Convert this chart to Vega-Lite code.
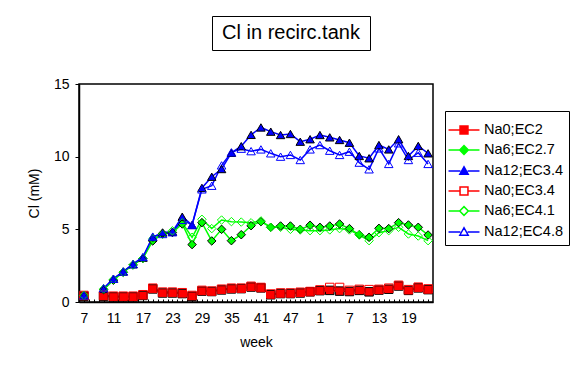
{
  "$schema": "https://vega.github.io/schema/vega-lite/v6.json",
  "background": "white",
  "padding": {"left": 26, "top": 15, "right": 0, "bottom": 0},
  "spacing": 25,
  "config": {
    "font": "Liberation Sans",
    "view": {"stroke": "black", "strokeWidth": 1.5},
    "axis": {
      "domainColor": "black", "domainWidth": 1.5, "tickColor": "black", "tickWidth": 1,
      "labelColor": "black", "titleColor": "black", "labelFont": "Liberation Sans", "titleFont": "Liberation Sans",
      "labelFontSize": 14, "titleFontSize": 14, "titleFontWeight": "normal", "grid": false
    }
  },
  "datasets": {
    "names": [
      {"key": "s1", "series": "Na0;EC2"},
      {"key": "s2", "series": "Na6;EC2.7"},
      {"key": "s3", "series": "Na12;EC3.4"},
      {"key": "s4", "series": "Na0;EC3.4"},
      {"key": "s5", "series": "Na6;EC4.1"},
      {"key": "s6", "series": "Na12;EC4.8"}
    ],
    "cl": [
      {"i": 0, "s1": 0.4, "s2": 0.42, "s3": 0.45, "s4": 0.45, "s5": 0.45, "s6": 0.45},
      {"i": 2, "s1": null, "s2": null, "s3": null, "s4": null, "s5": null, "s6": null},
      {"i": 4, "s1": 0.4, "s2": 0.85, "s3": 0.9, "s4": 0.45, "s5": 0.9, "s6": 0.95},
      {"i": 6, "s1": 0.35, "s2": 1.5, "s3": 1.6, "s4": 0.4, "s5": 1.55, "s6": 1.6},
      {"i": 8, "s1": 0.35, "s2": 2.05, "s3": 2.1, "s4": 0.4, "s5": 2.05, "s6": 2.1},
      {"i": 10, "s1": 0.35, "s2": 2.55, "s3": 2.6, "s4": 0.4, "s5": 2.55, "s6": 2.6},
      {"i": 12, "s1": 0.45, "s2": 3.0, "s3": 3.05, "s4": 0.5, "s5": 3.0, "s6": 3.1},
      {"i": 14, "s1": 0.9, "s2": 4.2, "s3": 4.45, "s4": 0.95, "s5": 4.35, "s6": 4.5},
      {"i": 16, "s1": 0.62, "s2": 4.72, "s3": 4.78, "s4": 0.68, "s5": 4.65, "s6": 4.68},
      {"i": 18, "s1": 0.62, "s2": 4.78, "s3": 4.84, "s4": 0.68, "s5": 4.9, "s6": 4.8},
      {"i": 20, "s1": 0.58, "s2": 5.37, "s3": 5.87, "s4": 0.64, "s5": 5.45, "s6": 5.65},
      {"i": 22, "s1": 0.4, "s2": 3.95, "s3": 5.3, "s4": 0.45, "s5": 4.45, "s6": 5.3},
      {"i": 24, "s1": 0.75, "s2": 5.46, "s3": 7.85, "s4": 0.8, "s5": 5.69, "s6": 7.75},
      {"i": 26, "s1": 0.72, "s2": 4.2, "s3": 8.62, "s4": 0.75, "s5": 5.05, "s6": 8.0},
      {"i": 28, "s1": 0.83, "s2": 5.0, "s3": 9.15, "s4": 0.88, "s5": 5.64, "s6": 9.4},
      {"i": 30, "s1": 0.9, "s2": 4.22, "s3": 10.27, "s4": 0.95, "s5": 5.53, "s6": 10.3},
      {"i": 32, "s1": 0.92, "s2": 4.63, "s3": 10.72, "s4": 0.95, "s5": 5.5, "s6": 10.55},
      {"i": 34, "s1": 1.03, "s2": 5.25, "s3": 11.5, "s4": 1.08, "s5": 5.45, "s6": 10.38},
      {"i": 36, "s1": 0.97, "s2": 5.53, "s3": 12.01, "s4": 1.0, "s5": 5.58, "s6": 10.5},
      {"i": 38, "s1": 0.5, "s2": 5.14, "s3": 11.72, "s4": 0.55, "s5": 5.14, "s6": 10.23},
      {"i": 40, "s1": 0.58, "s2": 5.23, "s3": 11.49, "s4": 0.62, "s5": 5.14, "s6": 10.0},
      {"i": 42, "s1": 0.58, "s2": 5.23, "s3": 11.56, "s4": 0.62, "s5": 5.0, "s6": 10.12},
      {"i": 44, "s1": 0.62, "s2": 5.0, "s3": 11.03, "s4": 0.67, "s5": 4.96, "s6": 9.77},
      {"i": 46, "s1": 0.7, "s2": 5.28, "s3": 11.2, "s4": 0.72, "s5": 4.91, "s6": 10.5},
      {"i": 48, "s1": 0.78, "s2": 5.14, "s3": 11.49, "s4": 0.83, "s5": 4.91, "s6": 10.8},
      {"i": 50, "s1": 0.8, "s2": 5.23, "s3": 11.33, "s4": 1.0, "s5": 4.96, "s6": 10.41},
      {"i": 52, "s1": 0.75, "s2": 5.37, "s3": 11.15, "s4": 1.0, "s5": 5.05, "s6": 10.12},
      {"i": 54, "s1": 0.72, "s2": 5.05, "s3": 10.96, "s4": 0.8, "s5": 4.96, "s6": 10.34},
      {"i": 56, "s1": 0.8, "s2": 4.63, "s3": 10.05, "s4": 0.87, "s5": 4.61, "s6": 9.59},
      {"i": 58, "s1": 0.7, "s2": 4.45, "s3": 9.89, "s4": 0.85, "s5": 4.22, "s6": 9.13},
      {"i": 60, "s1": 0.82, "s2": 5.07, "s3": 10.8, "s4": 0.87, "s5": 4.77, "s6": 10.57},
      {"i": 62, "s1": 0.88, "s2": 5.05, "s3": 10.5, "s4": 0.95, "s5": 4.91, "s6": 9.5},
      {"i": 64, "s1": 1.1, "s2": 5.46, "s3": 11.2, "s4": 1.15, "s5": 5.14, "s6": 10.92},
      {"i": 66, "s1": 0.8, "s2": 5.3, "s3": 10.05, "s4": 0.85, "s5": 4.68, "s6": 9.77},
      {"i": 68, "s1": 0.97, "s2": 5.14, "s3": 10.74, "s4": 1.02, "s5": 4.54, "s6": 10.27},
      {"i": 70, "s1": 0.85, "s2": 4.61, "s3": 10.23, "s4": 0.9, "s5": 4.22, "s6": 9.5}
    ]
  },
  "vconcat": [
    {
      "spacing": 0,
      "hconcat": [
        {
          "width": 132,
          "height": 34,
          "view": {"stroke": null},
          "data": {"values": []},
          "mark": {"type": "point", "opacity": 0},
          "encoding": {}
        },
        {
          "width": 158,
          "height": 34,
          "view": {"stroke": "black", "strokeWidth": 1},
          "data": {"values": [{"title": "Cl in recirc.tank"}]},
          "mark": {"type": "text", "fontSize": 20, "font": "Liberation Sans", "color": "black"},
          "encoding": {"text": {"field": "title", "type": "nominal"}}
        }
      ]
    },
    {
      "width": 354,
      "height": 218,
      "data": {"name": "cl"},
      "transform": [
        {"fold": ["s1", "s2", "s3", "s4", "s5", "s6"], "as": ["key", "v"]},
        {"lookup": "key", "from": {"data": {"name": "names"}, "key": "key", "fields": ["series"]}}
      ],
      "encoding": {
        "x": {
          "field": "i", "type": "quantitative",
          "scale": {"domain": [-1, 71], "nice": false, "zero": false},
          "axis": {
            "title": "week",
            "values": [0,1,2,3,4,5,6,7,8,9,10,11,12,13,14,15,16,17,18,19,20,21,22,23,24,25,26,27,28,29,30,31,32,33,34,35,36,37,38,39,40,41,42,43,44,45,46,47,48,49,50,51,52,53,54,55,56,57,58,59,60,61,62,63,64,65,66,67,68,69,70],
            "labelExpr": "datum.value % 6 == 0 ? ['7','11','17','23','29','35','41','47','1','7','13','19'][datum.value / 6] : ''",
            "labelOverlap": false, "labelFlush": false, "labelBound": false,
            "tickSize": -3, "labelPadding": 12, "titlePadding": 10
          }
        },
        "y": {
          "field": "v", "type": "quantitative",
          "scale": {"domain": [0, 15], "nice": false},
          "axis": {"title": "Cl (mM)", "values": [0, 5, 10, 15], "tickSize": 4, "labelPadding": 6, "titlePadding": 12}
        }
      },
      "layer": [
        {
          "mark": {"type": "line", "strokeWidth": 1.5, "invalid": "break-paths-show-domains"},
          "encoding": {
            "color": {
              "field": "series", "type": "nominal",
              "scale": {
                "domain": ["Na0;EC2", "Na6;EC2.7", "Na12;EC3.4", "Na0;EC3.4", "Na6;EC4.1", "Na12;EC4.8"],
                "range": ["#FF0000", "#00FF00", "#0000FF", "#FF0000", "#00FF00", "#0000FF"]
              },
              "legend": {
                "title": null, "orient": "none", "legendX": 366, "legendY": 95,
                "symbolSize": 576, "symbolStrokeWidth": 1.5, "labelOffset": 7, "rowPadding": 0,
                "padding": 6, "strokeColor": "black", "fillColor": "white",
                "labelFontSize": 14.5, "labelFont": "Liberation Sans", "labelColor": "black",
                "encode": {
                  "symbols": {
                    "update": {
                      "shape": {"signal": "datum.index % 3 == 0 ? 'M-1.29,0H-0.33M0.33,0H1.29M-0.33,-0.33H0.33V0.33H-0.33Z' : datum.index % 3 == 1 ? 'M-1.29,0H-0.36M0.36,0H1.29M-0.36,0L0,-0.36L0.36,0L0,0.36Z' : 'M-1.29,0H-0.3M0.3,0H1.29M-0.35,0.27L0,-0.36L0.35,0.27Z'"},
                      "fill": {"signal": "datum.index < 3 ? scale('color', datum.value) : 'white'"},
                      "stroke": {"signal": "scale('color', datum.value)"},
                      "strokeWidth": {"value": 1.5},
                      "opacity": {"value": 1}
                    }
                  }
                }
              }
            }
          }
        },
        {
          "mark": {"type": "point", "size": 72, "strokeWidth": 1, "opacity": 1, "filled": false},
          "encoding": {
            "shape": {
              "field": "key", "type": "nominal",
              "scale": {
                "domain": ["s1", "s2", "s3", "s4", "s5", "s6"],
                "range": ["square", "diamond", "triangle-up", "square", "diamond", "triangle-up"]
              },
              "legend": null
            },
            "fill": {
              "field": "key", "type": "nominal",
              "scale": {
                "domain": ["s1", "s2", "s3", "s4", "s5", "s6"],
                "range": ["#FF0000", "#00FF00", "#0000FF", "transparent", "transparent", "transparent"]
              },
              "legend": null
            },
            "stroke": {
              "field": "key", "type": "nominal",
              "scale": {
                "domain": ["s1", "s2", "s3", "s4", "s5", "s6"],
                "range": ["black", "black", "black", "#FF0000", "#00FF00", "#0000FF"]
              },
              "legend": null
            }
          }
        }
      ]
    }
  ]
}
